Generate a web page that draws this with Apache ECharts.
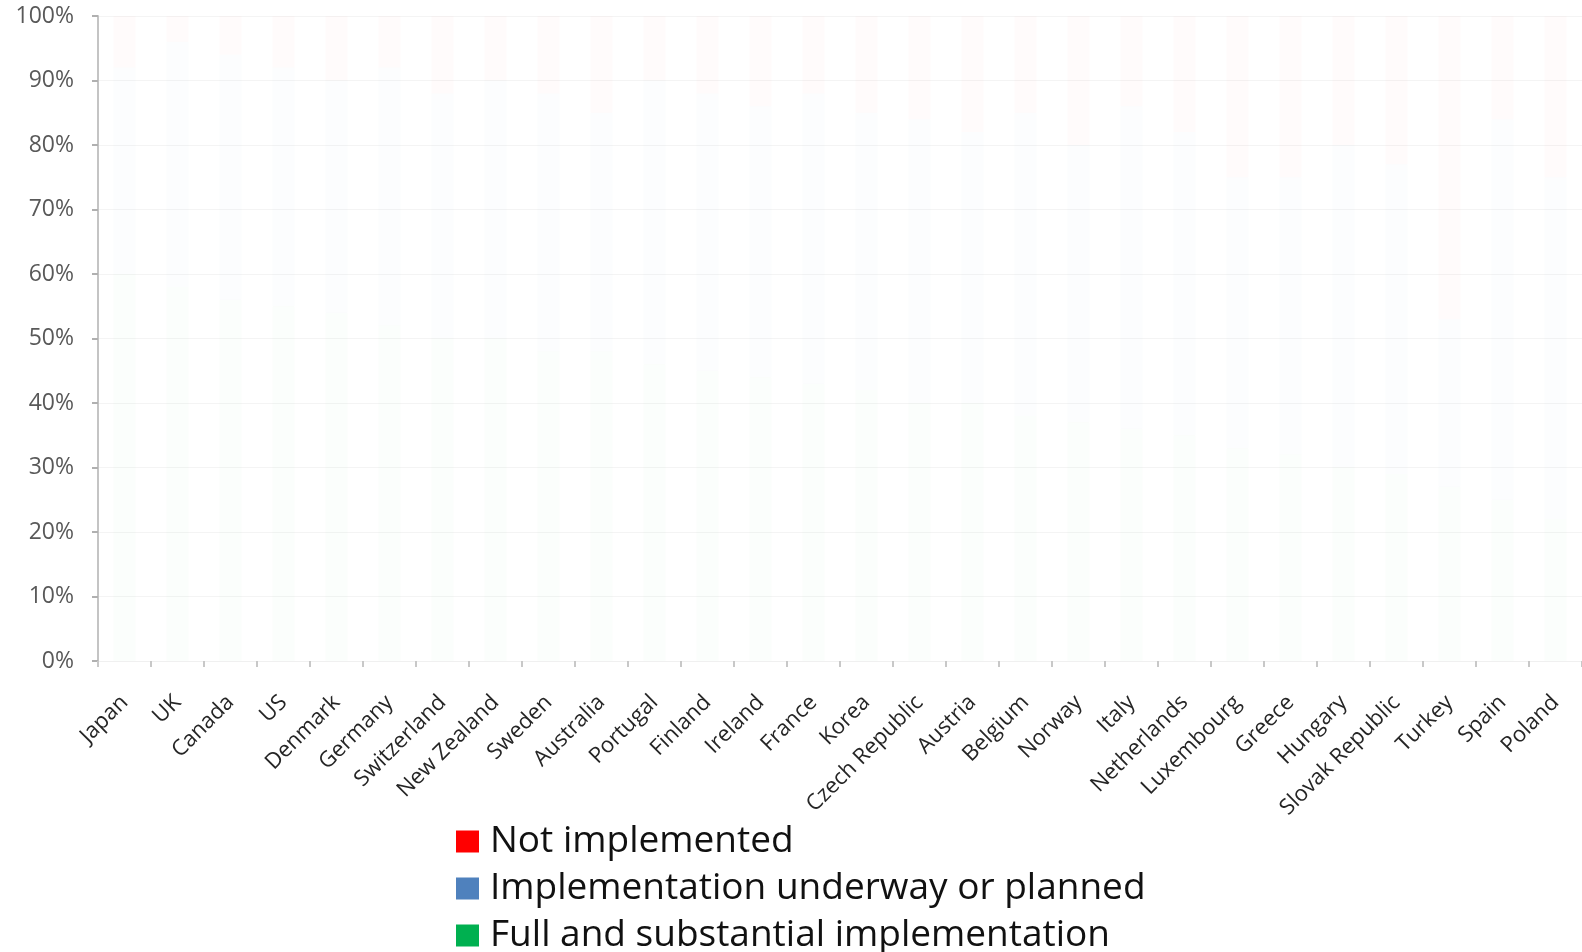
<!DOCTYPE html>
<html>
<head>
<meta charset="utf-8">
<script src="https://cdn.jsdelivr.net/npm/echarts@6/dist/echarts.min.js"></script>
<style>
  html, body { margin: 0; padding: 0; background: #fff; }
  #chart { width: 1582px; height: 952px; }
</style>
</head>
<body>
<div id="chart"></div>
<script>
// countries, in the order of the picture
const countries = ['Japan', 'UK', 'Canada', 'US', 'Denmark', 'Germany', 'Switzerland', 'New Zealand',
    'Sweden', 'Australia', 'Portugal', 'Finland', 'Ireland', 'France', 'Korea', 'Czech Republic',
    'Austria', 'Belgium', 'Norway', 'Italy', 'Netherlands', 'Luxembourg', 'Greece', 'Hungary',
    'Slovak Republic', 'Turkey', 'Spain', 'Poland'];

// shares in % (bars are almost washed out in the picture, values are estimates)
const fullImpl = [60, 58, 56, 55, 54, 52, 50, 50, 48, 48, 46, 45, 44, 43, 42, 40,
    40, 38, 37, 36, 35, 33, 32, 30, 29, 27, 25, 22];
const underway = [32, 38, 38, 37, 36, 40, 38, 40, 40, 37, 44, 43, 42, 45, 43, 44,
    42, 47, 43, 50, 47, 42, 43, 50, 48, 26, 59, 53];
const notImpl = [8, 4, 6, 8, 10, 8, 12, 10, 12, 15, 10, 12, 14, 12, 15, 16,
    18, 15, 20, 14, 18, 25, 25, 20, 23, 47, 16, 25];

const yTicks = [0, 100, 10]; // min, max, step

const RED = '#ff0000';
const BLUE = '#4f81bd';
const GREEN = '#00b050';
const FONT = '"Open Sans", "Noto Sans", sans-serif';

const chart = echarts.init(document.getElementById('chart'));

// bars are drawn very faint, like in the reference
function barSeries(name, data, color) {
    return {
        name: name,
        type: 'bar',
        stack: 'total',
        barWidth: 22,
        data: data,
        itemStyle: { color: color, opacity: 0.015 },
        emphasis: { disabled: true }
    };
}

const option = {
    backgroundColor: '#fff',
    animation: false,
    grid: { left: 98, right: 0, top: 16, bottom: 291 },
    legend: {
        orient: 'vertical',
        left: 456,
        top: 823,
        height: 170,
        padding: 0,
        itemWidth: 23,
        itemHeight: 22,
        itemGap: 10,
        icon: 'rect',
        textStyle: {
            fontSize: 37, lineHeight: 36, color: '#111', fontFamily: FONT,
            padding: [0, 0, 0, 6]
        },
        data: [
            { name: 'Not implemented', itemStyle: { color: RED, opacity: 1 } },
            { name: 'Implementation underway or planned', itemStyle: { color: BLUE, opacity: 1 } },
            { name: 'Full and substantial implementation', itemStyle: { color: GREEN, opacity: 1 } }
        ]
    },
    xAxis: {
        type: 'category',
        data: countries,
        axisLine: { show: true, lineStyle: { color: '#f0f0f0', width: 1 } },
        axisTick: { show: true, length: 6, lineStyle: { color: '#c8c8c8', width: 2 } },
        axisLabel: {
            rotate: 45,
            interval: 0,
            margin: 38,
            fontSize: 22,
            color: '#262626',
            fontFamily: FONT
        }
    },
    yAxis: {
        type: 'value',
        min: yTicks[0],
        max: yTicks[1],
        interval: yTicks[2],
        axisLine: { show: true, lineStyle: { color: '#c4c4c4', width: 2 } },
        axisTick: { show: true, length: 6, lineStyle: { color: '#b0b0b0', width: 2 } },
        splitLine: { show: true, lineStyle: { color: '#f4f4f4', width: 1 } },
        axisLabel: {
            formatter: '{value}%',
            margin: 24,
            fontSize: 23,
            color: '#595959',
            fontFamily: FONT
        }
    },
    series: [
        barSeries('Full and substantial implementation', fullImpl, GREEN),
        barSeries('Implementation underway or planned', underway, BLUE),
        barSeries('Not implemented', notImpl, RED)
    ]
};

chart.setOption(option);
</script>
</body>
</html>
